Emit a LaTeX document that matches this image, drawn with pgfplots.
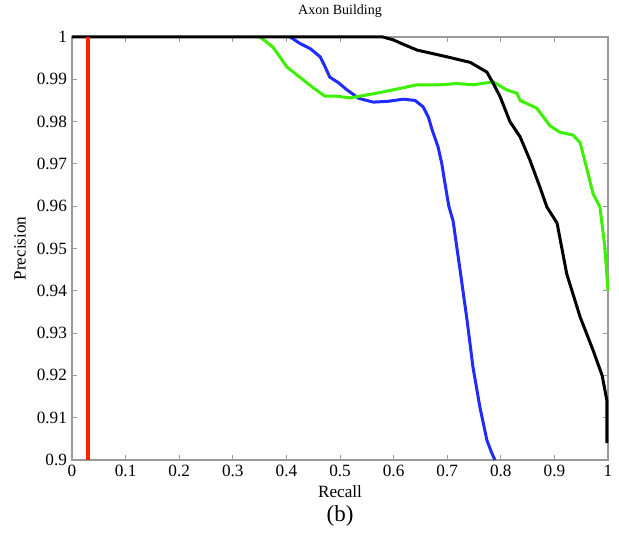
\documentclass[border=0pt]{standalone}
\usepackage{pgfplots}
\pgfplotsset{compat=1.18}
\usepackage{fontspec}
\setmainfont{Liberation Serif}
\definecolor{cblue}{HTML}{1F2BFF}
\definecolor{cgreen}{HTML}{3CF000}
\definecolor{cred}{HTML}{FF2200}
\definecolor{axgray}{HTML}{9A9A9A}
\begin{document}
\begin{tikzpicture}
\path[use as bounding box] (-36pt,-37.5pt) rectangle (273.5pt,230pt);
\begin{axis}[
  at={(0,0)}, anchor=south west,
  scale only axis, width=268pt, height=211.5pt,
  xmin=0, xmax=1, ymin=0.9, ymax=1,
  xtick={0,0.1,...,1}, ytick={0.9,0.91,...,1.001},
  xticklabels={0,0.1,0.2,0.3,0.4,0.5,0.6,0.7,0.8,0.9,1},
  yticklabels={0.9,0.91,0.92,0.93,0.94,0.95,0.96,0.97,0.98,0.99,1},
  tick align=inside, major tick length=2.5pt,
  axis line style={axgray, line width=0.8pt},
  every tick/.style={axgray, line width=0.5pt},
  tick label style={font=\fontsize{8.6}{9}\selectfont},
  xticklabel style={yshift=1pt},
  yticklabel style={xshift=1pt},
  /pgf/number format/assume math mode=true,
  clip=false,
  title={Axon Building},
  title style={font=\fontsize{7}{8}\selectfont, at={(axis description cs:0.5,1)}, anchor=center, yshift=7pt},
  xlabel={Recall},
  xlabel style={font=\fontsize{8.6}{9}\selectfont, at={(axis description cs:0.5,0)}, anchor=center, yshift=-16pt},
  ylabel={Precision},
  ylabel style={font=\fontsize{8.6}{9}\selectfont, at={(axis description cs:-0.097,0.5)}, anchor=center, rotate=0},
]
\addplot[cblue, line width=1.5pt] coordinates {
(0.407,1) (0.425,0.9985) (0.445,0.9972) (0.463,0.9953) (0.472,0.993) (0.481,0.9905) (0.497,0.9892) (0.513,0.9875) (0.535,0.9855) (0.562,0.9846) (0.59,0.9848) (0.618,0.9853) (0.64,0.985) (0.655,0.9835) (0.665,0.981) (0.672,0.978) (0.683,0.974) (0.69,0.970) (0.695,0.966) (0.703,0.960) (0.711,0.9565) (0.724,0.9449) (0.737,0.9331) (0.748,0.922) (0.761,0.9125) (0.774,0.9047) (0.782,0.902) (0.789,0.9)};
\addplot[cgreen, line width=1.5pt] coordinates {
(0.351,1) (0.375,0.9976) (0.401,0.9929) (0.425,0.9905) (0.45,0.988) (0.472,0.986) (0.494,0.986) (0.519,0.9856) (0.58,0.987) (0.644,0.9887) (0.687,0.9887) (0.718,0.989) (0.748,0.9887) (0.786,0.9894) (0.811,0.9875) (0.830,0.9867) (0.836,0.985) (0.867,0.9832) (0.892,0.979) (0.910,0.9775) (0.935,0.9768) (0.948,0.975) (0.961,0.9686) (0.972,0.963) (0.985,0.9598) (0.994,0.9504) (1.0,0.940)};
\addplot[black, line width=1.5pt] coordinates {
(0,1) (0.58,1) (0.6,0.9993) (0.612,0.9986) (0.644,0.9969) (0.7,0.9953) (0.743,0.994) (0.774,0.9917) (0.786,0.989) (0.799,0.9858) (0.817,0.980) (0.836,0.9764) (0.854,0.971) (0.873,0.9645) (0.886,0.9598) (0.905,0.956) (0.923,0.944) (0.948,0.9338) (0.972,0.926) (0.989,0.92) (0.998,0.914) (0.998,0.904)};
\addplot[cred, line width=1.6pt] coordinates {(0.03,0.9) (0.03,1)};
\end{axis}
\node[font=\fontsize{11.5}{13}\selectfont] at (134pt,-28pt) {(b)};
\end{tikzpicture}
\end{document}
